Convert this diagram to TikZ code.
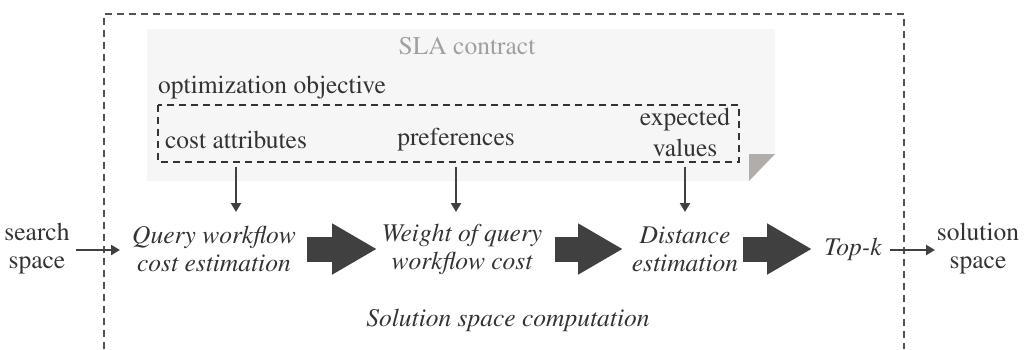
\documentclass[tikz,border=0pt]{standalone}
\usepackage[T1]{fontenc}
\usepackage{times}
\usetikzlibrary{arrows.meta}
\definecolor{txt}{HTML}{333333}
\definecolor{arr}{HTML}{404040}
\definecolor{paper}{HTML}{F6F6F6}
\definecolor{fold}{HTML}{B0ADAB}
\definecolor{slagray}{HTML}{A0A0A0}
\tikzset{
  lbl/.style={font=\fontsize{25.5}{28}\selectfont, text=txt, inner sep=0pt, align=center},
  proc/.style={lbl, font=\fontsize{25.5}{28}\selectfont\itshape},
  thin/.style={draw=arr, line width=2.6pt, -{Triangle[length=9pt,width=10pt]}},
  fat/.style={draw=arr, line width=25pt, -{Triangle[length=45pt 0,width=48pt 0]}},
  dashbox/.style={draw=txt, line width=1.2pt, dash pattern=on 7pt off 5pt},
}
\begin{document}
\begin{tikzpicture}[x=1pt,y=-1pt]
\useasboundingbox (0,0) rectangle (1035,349);
% outer dashed frame (open at bottom)
\draw[dashbox, draw=arr!90] (104,349) -- (104,14) -- (904,14) -- (904,349);
% SLA paper
\fill[paper] (147,29) -- (775,29) -- (775,154) -- (749,181) -- (147,181) -- cycle;
\fill[fold] (749,154) -- (775,154) -- (749,181) -- cycle;
\node[lbl, text=slagray] (sla) at (467,46) {SLA contract};
\node[lbl, anchor=west] (opt) at (158,88) {optimization objective};
\draw[dashbox] (158,105) rectangle (739,162);
\node[lbl] (cost) at (236,140) {cost attributes};
\node[lbl] (pref) at (456,140) {preferences};
\node[lbl] (exp) at (685,132) {expected\\[3pt]values};
% process nodes
\node[lbl] (search) at (37,249) {search\\space};
\node[proc] (qwc) at (214,249) {Query workflow\\cost estimation};
\node[proc] (wq) at (462,249) {Weight of query\\workflow cost};
\node[proc] (de) at (685,249) {Distance\\estimation};
\node[proc] (topk) at (853,249) {Top-\textit{k}};
\node[lbl] (sol) at (978,249) {solution\\space};
\node[proc] (ssc) at (508,320) {Solution space computation};
% connectors
\coordinate (c1) at (236,167); \coordinate (c1e) at (236,212);
\coordinate (c2) at (456,167); \coordinate (c2e) at (456,212);
\coordinate (c3) at (685,167); \coordinate (c3e) at (685,212);
\draw[thin] (c1) -- (c1e);
\draw[thin] (c2) -- (c2e);
\draw[thin] (c3) -- (c3e);
\coordinate (s1) at (76,250); \coordinate (s1e) at (120,250);
\draw[thin] (s1) -- (s1e);
\coordinate (t1) at (890,250); \coordinate (t1e) at (935,250);
\draw[thin] (t1) -- (t1e);
\coordinate (f1) at (307,249); \coordinate (f1e) at (377,249);
\coordinate (f2) at (555,249); \coordinate (f2e) at (623,249);
\coordinate (f3) at (743,249); \coordinate (f3e) at (812,249);
\draw[fat] (f1) -- (f1e);
\draw[fat] (f2) -- (f2e);
\draw[fat] (f3) -- (f3e);
\end{tikzpicture}
\end{document}
